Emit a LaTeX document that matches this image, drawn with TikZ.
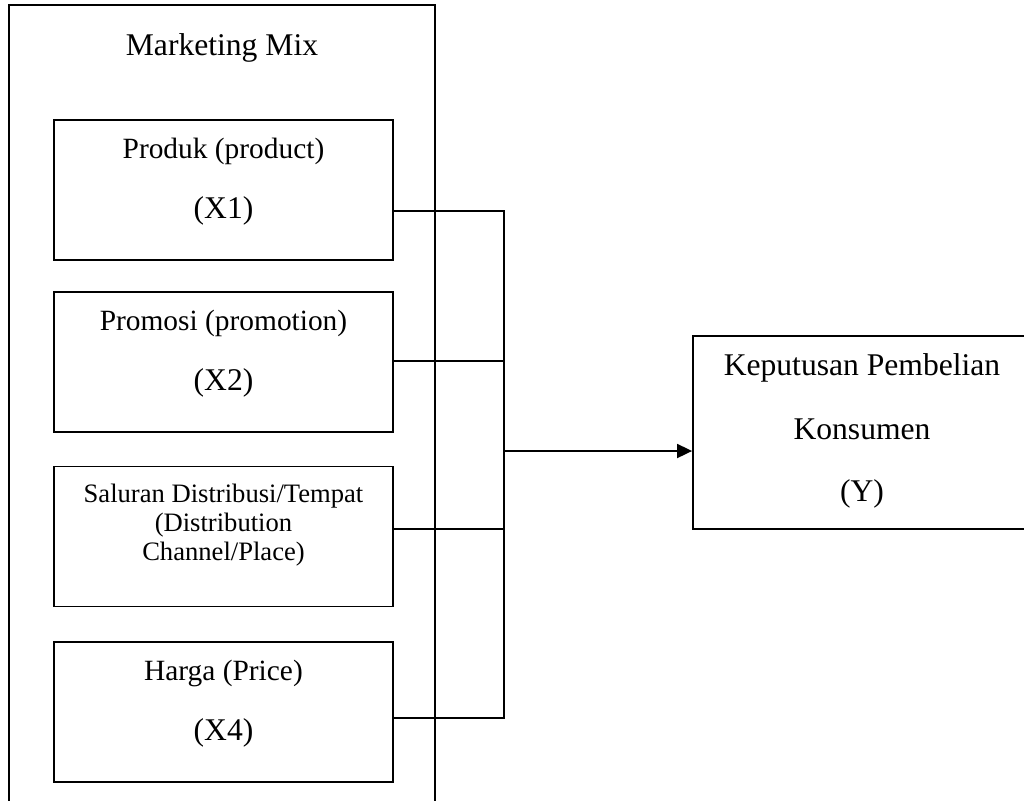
\documentclass[tikz,border=0pt]{standalone}
\usepackage{fontspec}
\setmainfont{Liberation Serif}
\usetikzlibrary{arrows.meta,calc}

\begin{document}
\begin{tikzpicture}[x=0.5pt,y=-0.5pt,>={Triangle[length=7.5pt,width=7pt]},
    varbox/.style={draw,line width=0.9pt,minimum width=169.5pt,minimum height=70pt,inner sep=0pt},
    lbl/.style={anchor=base,inner sep=0pt,font=\fontsize{15.8}{18}\selectfont},
    vlbl/.style={anchor=base,inner sep=0pt,font=\fontsize{14.7}{17}\selectfont},
    small/.style={anchor=base,inner sep=0pt,font=\fontsize{13.3}{15}\selectfont}]
  \useasboundingbox (0,0) rectangle (1024,800);
  \clip (0,0) rectangle (1024,800);
  % outer frame
  \draw[line width=1pt] (9,810) -- (9,5) -- (435,5) -- (435,810);
  \node[lbl] (mm) at (222,55) {Marketing Mix};
  % the four variables
  \node[varbox] (b1) at (223.5,190) {};
  \node[varbox] (b2) at (223.5,362) {};
  \node[varbox] (b3) at (223.5,536.5) {};
  \node[varbox] (b4) at (223.5,712) {};
  \node[vlbl] (t1) at (223.5,158) {Produk (product)};
  \node[lbl] (x1) at (223.5,218) {(X1)};
  \node[vlbl] (t2) at (223.5,330) {Promosi (promotion)};
  \node[lbl] (x2) at (223.5,390) {(X2)};
  \node[small] (t3a) at (223.5,502) {Saluran Distribusi/Tempat};
  \node[small] (t3b) at (223.5,531) {(Distribution};
  \node[small] (t3c) at (223.5,560) {Channel/Place)};
  \node[vlbl] (t4) at (223.5,680) {Harga (Price)};
  \node[lbl] (x4) at (223.5,740) {(X4)};
  % result
  \node[varbox,minimum width=169pt,minimum height=96.5pt] (y) at (862,432.5) {};
  \node[lbl] (ty1) at (862,375) {Keputusan Pembelian};
  \node[lbl] (ty2) at (862,439) {Konsumen};
  \node[lbl] (ty3) at (862,501) {(Y)};
  % connectors
  \coordinate (j1) at (504,211);
  \coordinate (j2) at (504,361);
  \coordinate (j3) at (504,529);
  \coordinate (j4) at (504,718);
  \coordinate (jm) at (504,451);
  \draw[line width=0.9pt] (b1.east |- j1) -- (j1) -- (j4) -- (b4.east |- j4);
  \draw[line width=0.9pt] (b2.east |- j2) -- (j2);
  \draw[line width=0.9pt] (b3.east |- j3) -- (j3);
  \draw[line width=0.9pt,->] (jm) -- (y.west |- jm);
\end{tikzpicture}
\end{document}
